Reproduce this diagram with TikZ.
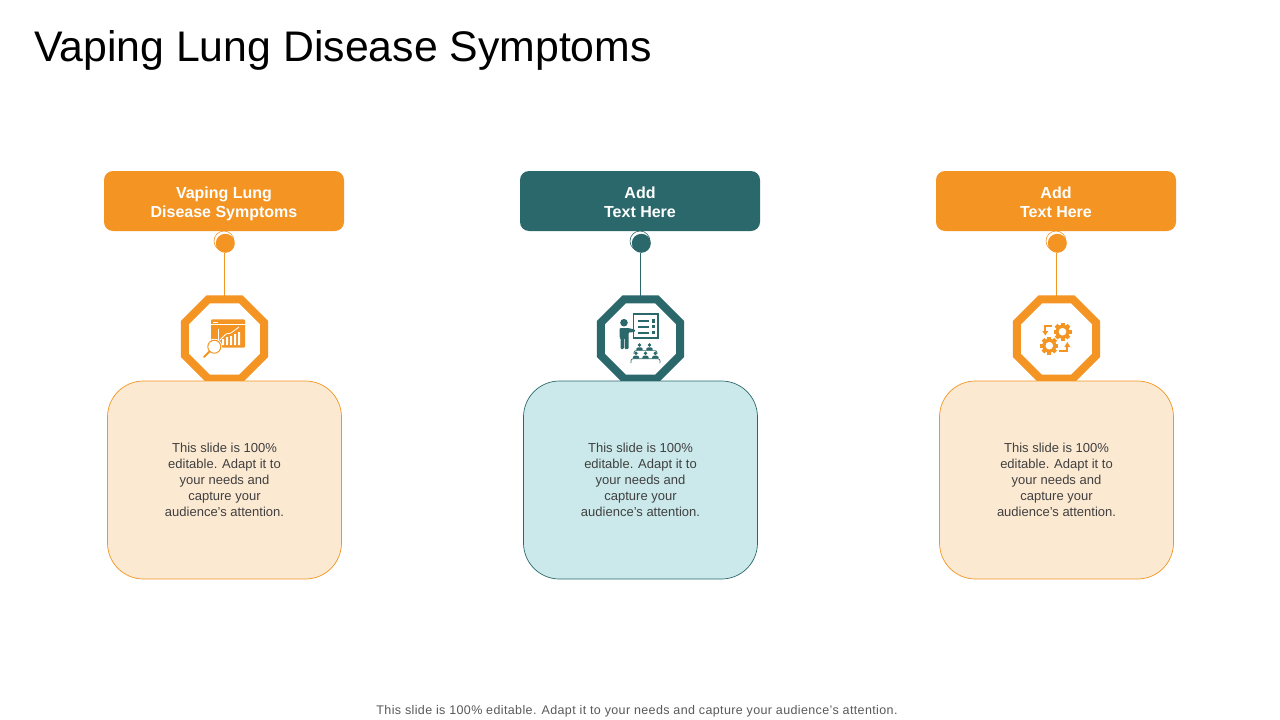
\documentclass[tikz,border=0pt]{standalone}
\usepackage{fontspec}
\setmainfont{Liberation Sans}
\usetikzlibrary{shapes.geometric}
\definecolor{orangeC}{HTML}{F39423}
\definecolor{tealC}{HTML}{2B686B}
\definecolor{orangeL}{HTML}{FCE9D2}
\definecolor{tealL}{HTML}{CBE9EA}
\definecolor{txt}{HTML}{404040}
\definecolor{foot}{HTML}{595959}
\newcommand{\topfix}{\rule{0pt}{17pt}}
\newcommand{\botfix}{\rule[-3.6pt]{0pt}{3.6pt}}
\tikzset{
  header/.style={fill=#1,rounded corners=9pt,minimum width=240pt,minimum height=60pt,inner sep=0pt,text=white,align=center,
    font=\fontsize{16}{19}\selectfont\bfseries},
  bodybox/.style n args={2}{fill=#1,draw=#2,line width=.7pt,rounded corners=36pt,minimum width=234pt,minimum height=198pt,inner sep=0pt,text=txt,align=center,
    font=\fontsize{13}{16}\selectfont},
  octa/.style={regular polygon,regular polygon sides=8,minimum size=85.6pt,inner sep=0pt,outer sep=0pt,draw=#1,line width=8pt,fill=white},
  bigdot/.style={circle,fill=#1,minimum size=19pt,inner sep=0pt,outer sep=0pt},
  ringdot/.style={circle,draw=#1,line width=.6pt,minimum size=20pt,inner sep=0pt,outer sep=0pt},
  link/.style={draw=#1,line width=1pt},
}
\newcommand{\gearicon}[3]{%
  \begin{scope}[shift={(#1,#2)}]
    \foreach \a in {0,45,...,315}{\fill[orangeC,rotate=\a] (-2,-9) rectangle (2,0);}
    \fill[orangeC] (0,0) circle (7);
    \fill[white] (0,0) circle (#3);
  \end{scope}}
\begin{document}
\begin{tikzpicture}[x=1pt,y=-1pt]
\useasboundingbox (0,0) rectangle (1280,720);
\fill[white] (0,0) rectangle (1280,720);
\node[anchor=west,inner sep=0pt,font=\fontsize{42.8}{50}\selectfont] (title) at (34,50) {Vaping Lung Disease Symptoms};

% column A
\node[octa=orangeC] (octA) at (224.5,339) {};
\node[header=orangeC] (hdA) at (224,201) {\topfix Vaping Lung\\Disease Symptoms\botfix};
\node[ringdot=orangeC] (rA) at (224,241) {};
\node[bigdot=orangeC] (dotA) at (225.3,243.3) {};
\draw[link=orangeC] (octA.north) -- (octA.north |- dotA.south);
\node[bodybox={orangeL}{orangeC}] (bdA) at (224.5,480) {This slide is 100\%\\editable. Adapt it to\\your needs and\\capture your\\audience's attention.};

% column B
\node[octa=tealC] (octB) at (640.5,339) {};
\node[header=tealC] (hdB) at (640,201) {\topfix Add\\Text Here\botfix};
\node[ringdot=tealC] (rB) at (640,241) {};
\node[bigdot=tealC] (dotB) at (641.3,243.3) {};
\draw[link=tealC] (octB.north) -- (octB.north |- dotB.south);
\node[bodybox={tealL}{tealC}] (bdB) at (640.5,480) {This slide is 100\%\\editable. Adapt it to\\your needs and\\capture your\\audience's attention.};

% column C
\node[octa=orangeC] (octC) at (1056.5,339) {};
\node[header=orangeC] (hdC) at (1056,201) {\topfix Add\\Text Here\botfix};
\node[ringdot=orangeC] (rC) at (1056,241) {};
\node[bigdot=orangeC] (dotC) at (1057.3,243.3) {};
\draw[link=orangeC] (octC.north) -- (octC.north |- dotC.south);
\node[bodybox={orangeL}{orangeC}] (bdC) at (1056.5,480) {This slide is 100\%\\editable. Adapt it to\\your needs and\\capture your\\audience's attention.};

% icon A: browser window with chart and magnifier
\fill[orangeC,rounded corners=1pt] (211,319.3) rectangle (245,347.7);
\fill[white] (213,321.5) rectangle (218,322.5);
\draw[white,line width=.6pt] (211,324.5) -- (245,324.5);
\draw[white,line width=.7pt] (218.5,329) -- (218.5,345);
\fill[white] (222,345) rectangle (224,339) (226,345) rectangle (228,337) (230,345) rectangle (232,336) (234,345) rectangle (236,334) (238,345) rectangle (240,332);
\draw[white,line width=.8pt] (220,340) -- (226,334) -- (231,333) -- (239,327);
\draw[white,line width=2.4pt] (214.3,346.7) circle (6.7);
\draw[orangeC,line width=1pt,fill=white] (214.3,346.7) circle (6.5);
\draw[orangeC,line width=2pt,line cap=round] (209.5,351.5) -- (204,357);

% icon B: presenter, board, audience
\fill[tealC] (624,322.7) circle (3.8);
\fill[tealC,rounded corners=1pt] (619.5,328) -- (628,328) -- (635,329.5) -- (635,332) -- (628.5,332.5) -- (628.5,349) -- (624.5,349) -- (624.5,338) -- (623.8,338) -- (623.8,349) -- (620.5,349) -- (620.5,338) -- (619.5,338) -- cycle;
\draw[tealC,line width=1.7pt] (633.5,314) rectangle (658,338);
\foreach \yy in {321,326.7,332.7}{
  \draw[tealC,line width=1.7pt] (637.7,\yy) -- (649,\yy);
  \fill[tealC] (651.7,\yy-1.7) rectangle (655,\yy+1.7);
}
\foreach \xx/\yy in {639.5/345,649.5/345,636/353.3,645.5/353.3,655.3/353.3}{
  \fill[tealC] (\xx,\yy) circle (1.9);
  \fill[tealC] (\xx-3.2,\yy+5.3) -- (\xx-3.2,\yy+3.6) -- (\xx-1.4,\yy+2.3) -- (\xx+1.4,\yy+2.3) -- (\xx+3.2,\yy+3.6) -- (\xx+3.2,\yy+5.3) -- cycle;
}
\draw[tealC,line width=.7pt,rounded corners=2pt] (631,363) -- (631,358.8) -- (660,358.8) -- (660,363);
\draw[tealC,line width=.7pt,rounded corners=2pt] (634,352) -- (634,350.6) -- (657,350.6) -- (657,352);

% icon C: gears and arrows
\gearicon{1062.5}{331.7}{3.8}
\gearicon{1049.3}{345.7}{3.8}
\draw[orangeC,line width=2pt] (1052,326) -- (1045.3,326) -- (1045.3,332);
\fill[orangeC] (1042.3,331) -- (1048.3,331) -- (1045.3,335.5) -- cycle;
\draw[orangeC,line width=2pt] (1058.7,351) -- (1067.3,351) -- (1067.3,346);
\fill[orangeC] (1064.3,347) -- (1070.3,347) -- (1067.3,342) -- cycle;

\node[inner sep=0pt,text=foot,font=\fontsize{12.5}{14}\selectfont,anchor=center] (ftr) at (637,711) {\addfontfeature{LetterSpace=3}This slide is 100\% editable. Adapt it to your needs and capture your audience's attention.};
\end{tikzpicture}
\end{document}
